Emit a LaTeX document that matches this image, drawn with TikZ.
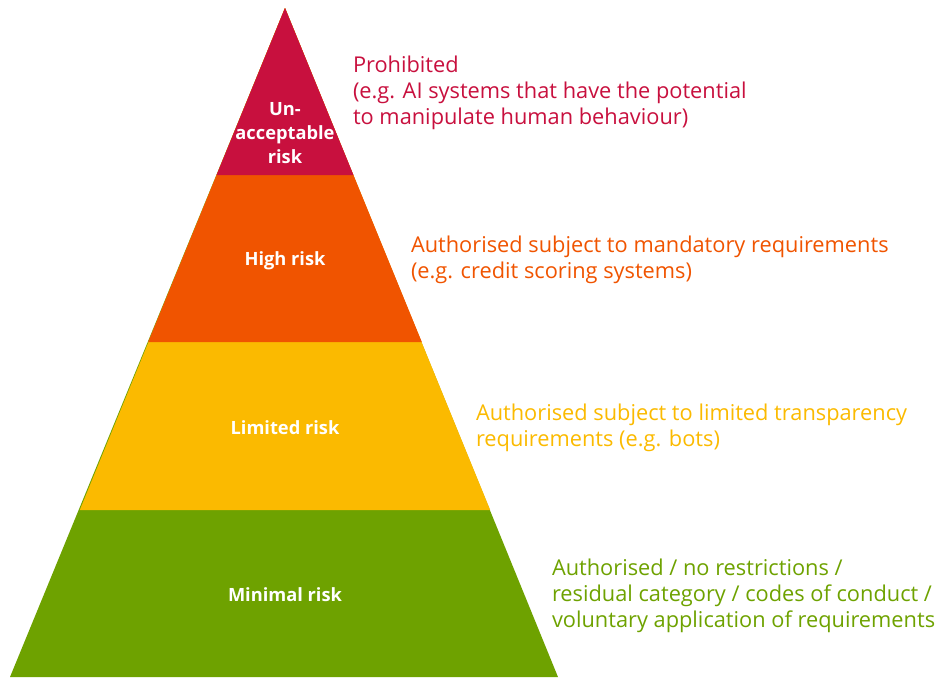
\documentclass[tikz,border=0pt]{standalone}
\usepackage{fontspec}
\setmainfont{Open Sans}

\begin{document}
\begin{tikzpicture}[x=0.02cm, y=-0.02cm,
    inner sep=0pt, outer sep=0pt,
    tier/.style={text=white, align=center,
        font=\bfseries\fontsize{10.4}{13.6}\selectfont},
    note/.style={text=#1, anchor=west, align=left,
        font=\fontsize{12.4}{14.74}\selectfont},
]
    % Colors
    \definecolor{riskred}{HTML}{C8103E}
    \definecolor{riskorange}{HTML}{F05400}
    \definecolor{riskyellow}{HTML}{FBBA00}
    \definecolor{riskgreen}{HTML}{6EA200}

    \useasboundingbox (0,0) rectangle (941,677);

    % Pyramid, painted from the base up so the bands share edges
    \coordinate (apex) at (285,8);
    \fill[riskgreen]  (apex) -- (558,677)   -- (10,677)    -- cycle;
    \fill[riskyellow] (apex) -- (490.2,510) -- (79.8,510)  -- cycle;
    \fill[riskorange] (apex) -- (421.8,342) -- (148.2,342) -- cycle;
    \fill[riskred]    (apex) -- (353.4,175) -- (216.6,175) -- cycle;

    % Band labels
    \node[tier] (unacceptable) at (285,133) {Un-\\acceptable\\risk};
    \node[tier] (high)         at (285,261) {High risk};
    \node[tier] (limited)      at (285,428) {Limited risk};
    \node[tier] (minimal)      at (285,595) {Minimal risk};

    % What each band means
    \node[note=riskred] (prohibited) at (353,93)
        {Prohibited\\(e.g. AI systems that have the potential\\to manipulate human behaviour)};
    \node[note=riskorange] (mandatory) at (411,260)
        {Authorised subject to mandatory requirements\\(e.g. credit scoring systems)};
    \node[note=riskyellow] (transparency) at (476,428)
        {Authorised subject to limited transparency\\requirements (e.g. bots)};
    \node[note=riskgreen] (norestrict) at (552,596)
        {Authorised / no restrictions /\\residual category / codes of conduct /\\voluntary application of requirements};
\end{tikzpicture}
\end{document}
